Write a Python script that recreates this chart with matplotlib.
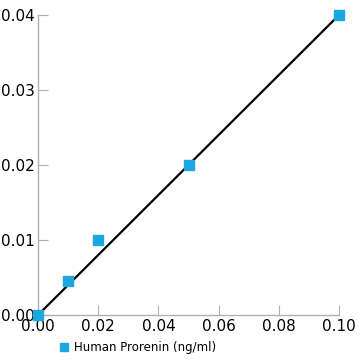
import numpy as np
import matplotlib
matplotlib.use("Agg")
import matplotlib.pyplot as plt

conc = [0.0, 0.01, 0.02, 0.05, 0.10]
signal = [0.0, 0.0045, 0.010, 0.020, 0.040]
fit_x = [0.0, 0.10]
fit_y = [0.0, 0.040]
xticks = [0.00, 0.02, 0.04, 0.06, 0.08, 0.10]
yticks = [0.00, 0.01, 0.02, 0.03, 0.04]

fig = plt.figure(figsize=(3.6, 3.6), dpi=100)
ax = fig.add_axes([0.1056, 0.125, 0.8361, 0.8333])

ax.plot(fit_x, fit_y, color="black", linewidth=1.6, zorder=2, clip_on=False)
ax.plot(conc, signal, linestyle="none", marker="s", markersize=7.2,
        color="#1ba7e0", zorder=3, clip_on=False, label="Human Prorenin (ng/ml)")

ax.set_xlim(0, 0.10)
ax.set_ylim(0, 0.04)
ax.set_xticks(xticks)
ax.set_yticks(yticks)
ax.set_xticklabels(["%.2f" % v for v in xticks])
ax.set_yticklabels(["%.2f" % v for v in yticks])

for s in ["top", "right"]:
    ax.spines[s].set_visible(False)
for s in ["left", "bottom"]:
    ax.spines[s].set_color("#b0b0b0")
    ax.spines[s].set_linewidth(1.0)
ax.tick_params(direction="in", length=7, color="#b0b0b0", labelsize=11, pad=2)
ax.tick_params(axis="x", pad=3)

ax.legend(loc="upper left", bbox_to_anchor=(0.05, -0.068), frameon=False,
          fontsize=8.5, handlelength=0.8, handletextpad=0.5, borderpad=0,
          markerscale=0.85)

fig.savefig("out.png", dpi=100)
